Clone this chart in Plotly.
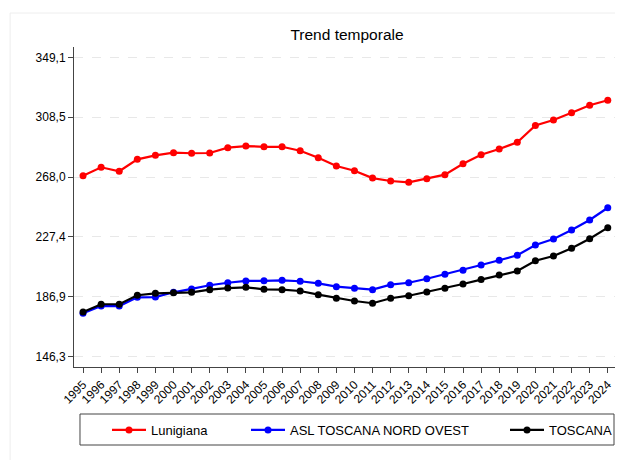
import plotly.graph_objects as go

years = list(range(1995, 2025))
lunigiana = [268.9, 274.6, 271.9, 280.0, 282.7, 284.5, 284.1, 284.3, 287.9, 289.0,
             288.5, 288.5, 285.8, 281.1, 275.5, 272.3, 267.3, 265.3, 264.4, 266.9,
             269.6, 277.0, 283.1, 287.0, 291.5, 303.0, 306.6, 311.6, 316.6, 320.0]
asl_nord_ovest = [175.7, 180.6, 180.6, 186.5, 186.7, 189.9, 192.2, 194.7, 196.4, 197.6,
                  197.7, 198.0, 197.4, 196.0, 193.7, 192.6, 191.7, 195.1, 196.4, 199.1,
                  202.2, 204.8, 208.4, 211.6, 215.0, 222.0, 226.0, 232.1, 238.9, 247.2]
toscana = [176.6, 181.8, 181.8, 187.9, 189.2, 189.6, 189.9, 191.7, 192.8, 193.3,
           191.9, 191.7, 190.8, 188.3, 185.9, 184.0, 182.5, 185.9, 187.6, 190.1,
           192.7, 195.5, 198.5, 201.6, 204.3, 211.3, 214.5, 219.7, 226.2, 233.7]

series_names = ["Lunigiana", "ASL TOSCANA NORD OVEST", "TOSCANA"]
series_colors = ["#ff0000", "#0000ff", "#000000"]

y_tickvals = [146.3, 186.86, 227.42, 267.98, 308.54, 349.1]
y_ticktext = ["146,3", "186,9", "227,4", "268,0", "308,5", "349,1"]
x_ticktext = [str(y) for y in years]

FONT = "Arial, Liberation Sans, sans-serif"

# figure geometry (page has an 8px body margin)
W, H = 615, 452
L, R, T, B = 66, 7, 39, 93
PW, PH = W - L - R, H - T - B


def px_x(x):
    return (x - L) / PW


def px_y(y):
    return (H - B - y) / PH


fig = go.Figure()
legend_ids = ["legend", "legend2", "legend3"]
for name, vals, col, lg in zip(series_names, [lunigiana, asl_nord_ovest, toscana],
                               series_colors, legend_ids):
    fig.add_trace(go.Scatter(
        x=years, y=vals, name=name, mode="lines+markers",
        line=dict(color=col, width=2.2),
        marker=dict(color=col, size=7),
        legend=lg,
    ))

text_starts = [143, 282, 541]  # where each legend label starts (figure px)
legend_y = px_y(422)


def legend_cfg(text_x):
    return dict(orientation="h", x=px_x(text_x - 44), xanchor="left",
                y=legend_y, yanchor="middle", itemwidth=34,
                borderwidth=0, bgcolor="rgba(0,0,0,0)",
                font=dict(size=13, family=FONT, color="#000000"))


fig.update_layout(
    width=W, height=H,
    margin=dict(l=L, r=R, t=T, b=B),
    paper_bgcolor="white", plot_bgcolor="white",
    font=dict(family=FONT, color="#000000"),
    title=dict(text="Trend temporale", x=339/W, xanchor="center",
               y=1 - 27/H, yanchor="middle",
               font=dict(size=15.5, family=FONT, color="#000000")),
    showlegend=True,
    legend=legend_cfg(text_starts[0]),
    legend2=legend_cfg(text_starts[1]),
    legend3=legend_cfg(text_starts[2]),
    shapes=[
        dict(type="rect", xref="paper", yref="paper",
             x0=px_x(72), x1=px_x(607),
             y0=px_y(406), y1=px_y(437),
             line=dict(color="#444444", width=1), fillcolor="rgba(0,0,0,0)", layer="below"),
        dict(type="rect", xref="paper", yref="paper",
             x0=px_x(2), x1=px_x(W + 50),
             y0=px_y(5), y1=px_y(H + 50),
             line=dict(color="#eeeeee", width=1), fillcolor="rgba(0,0,0,0)", layer="below"),
    ],
)

fig.update_xaxes(
    range=[1994.5, 2024.4],
    tickmode="array", tickvals=years, ticktext=x_ticktext,
    tickangle=-45, ticks="outside", ticklen=5, tickcolor="#444444",
    showline=True, linecolor="#444444", linewidth=1,
    showgrid=False, zeroline=False,
    tickfont=dict(size=12, family=FONT, color="#000000"),
)
fig.update_yaxes(
    range=[139.3, 356.1],
    tickmode="array", tickvals=y_tickvals, ticktext=y_ticktext,
    ticks="outside", ticklen=5, tickcolor="#444444",
    showline=True, linecolor="#444444", linewidth=1,
    showgrid=True, gridcolor="#e8e8e8", griddash="dash", gridwidth=1,
    zeroline=False,
    tickfont=dict(size=12, family=FONT, color="#000000"),
)

fig.write_html("out.html")
